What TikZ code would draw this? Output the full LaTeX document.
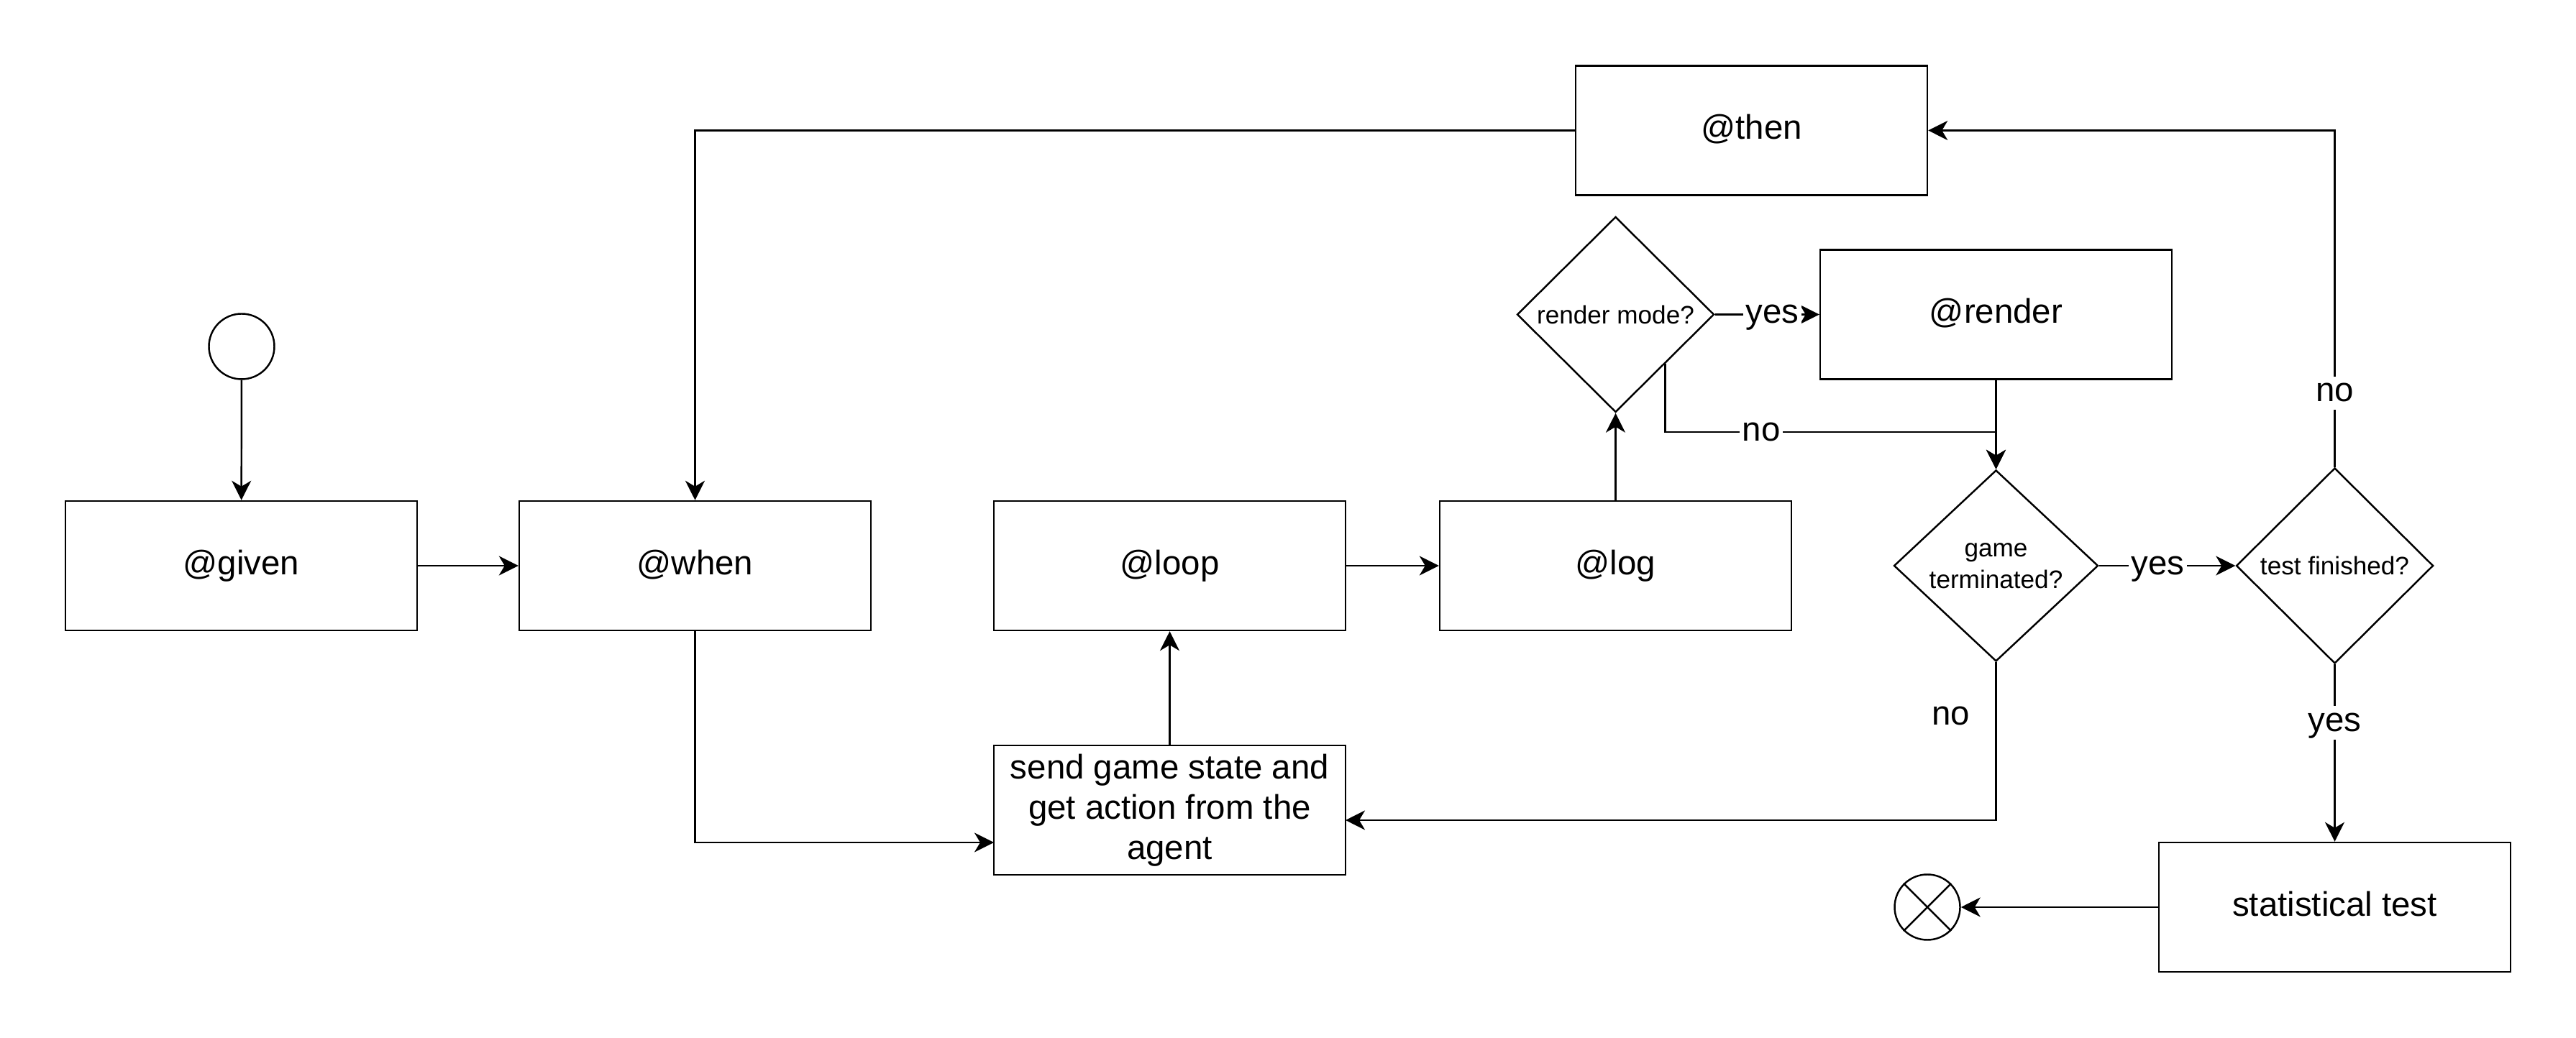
\documentclass[tikz,border=0pt]{standalone}
\usepackage{fontspec}
\setmainfont{Liberation Sans}
\usetikzlibrary{shapes.geometric,arrows.meta}

\begin{document}
\begin{tikzpicture}[
  line width=0.7pt,
  rect/.style={rectangle,draw,minimum width=4.89cm,minimum height=1.80cm,
    align=center,font=\fontsize{13.5}{15.9}\selectfont},
  box/.style={rect,text height=0.905em,text depth=0.212em},
  cond/.style={diamond,draw,inner sep=0pt,minimum width=2.74cm,minimum height=2.72cm,
    align=center,font=\fontsize{10}{12.4}\selectfont},
  term/.style={circle,draw,inner sep=0pt,minimum size=0.91cm},
  arr/.style={-{Stealth[length=0.27cm,width=0.27cm,inset=0.08cm]}},
  lbl/.style={fill=white,inner sep=1pt,text height=0.905em,text depth=0.212em,
    font=\fontsize{13.5}{15.9}\selectfont}
]
\useasboundingbox (0,0) rectangle (35.82,14.43);
\node[term] (S) at (3.36,9.61) {};
\node[box] (Given) at (3.355,6.56) {@given};
\node[box] (When) at (9.665,6.56) {@when};
\node[box] (Loop) at (16.265,6.56) {@loop};
\node[box] (Log) at (22.465,6.56) {@log};
\node[rect] (Send) at (16.265,3.16) {send game state and\\get action from the\\agent};
\node[box] (Then) at (24.355,12.615) {@then};
\node[cond] (RM) at (22.465,10.055) {render mode?};
\node[box] (Render) at (27.755,10.055) {@render};
\node[cond,minimum width=2.84cm,minimum height=2.66cm] (GT) at (27.755,6.56) {game\\terminated?};
\node[cond] (TF) at (32.465,6.56) {test finished?};
\node[box] (Stat) at (32.465,1.81) {statistical test};
\node[term] (E) at (26.80,1.81) {};
\draw (E.north west) -- (E.south east) (E.north east) -- (E.south west);
\coordinate (J) at (27.755,8.42);
\coordinate (Win) at (13.82,2.71);
\coordinate (GTin) at (18.71,3.02);
\path[arr]
  (S) edge (Given)
  (Given) edge (When)
  (Send) edge (Loop)
  (Loop) edge (Log)
  (Log) edge (RM)
  (RM) edge node[lbl,pos=0.55] {yes} (Render)
  (Render) edge (GT)
  (GT) edge node[lbl,pos=0.43] {yes} (TF)
  (TF) edge node[lbl,pos=0.33] {yes} (Stat)
  (Stat) edge (E)
;
\draw[arr] (When.south) |- (Win);
\draw[arr] (GT.south) |- node[lbl,pos=0.17,left=9pt] {no} (GTin);
\draw[arr] (RM.south east) |- node[lbl,pos=0.645] {no} (J) -- (GT.north);
\draw[arr] (TF.north) |- node[lbl,pos=0.11] {no} (Then.east);
\draw[arr] (Then.west) -| (When.north);
\end{tikzpicture}
\end{document}
